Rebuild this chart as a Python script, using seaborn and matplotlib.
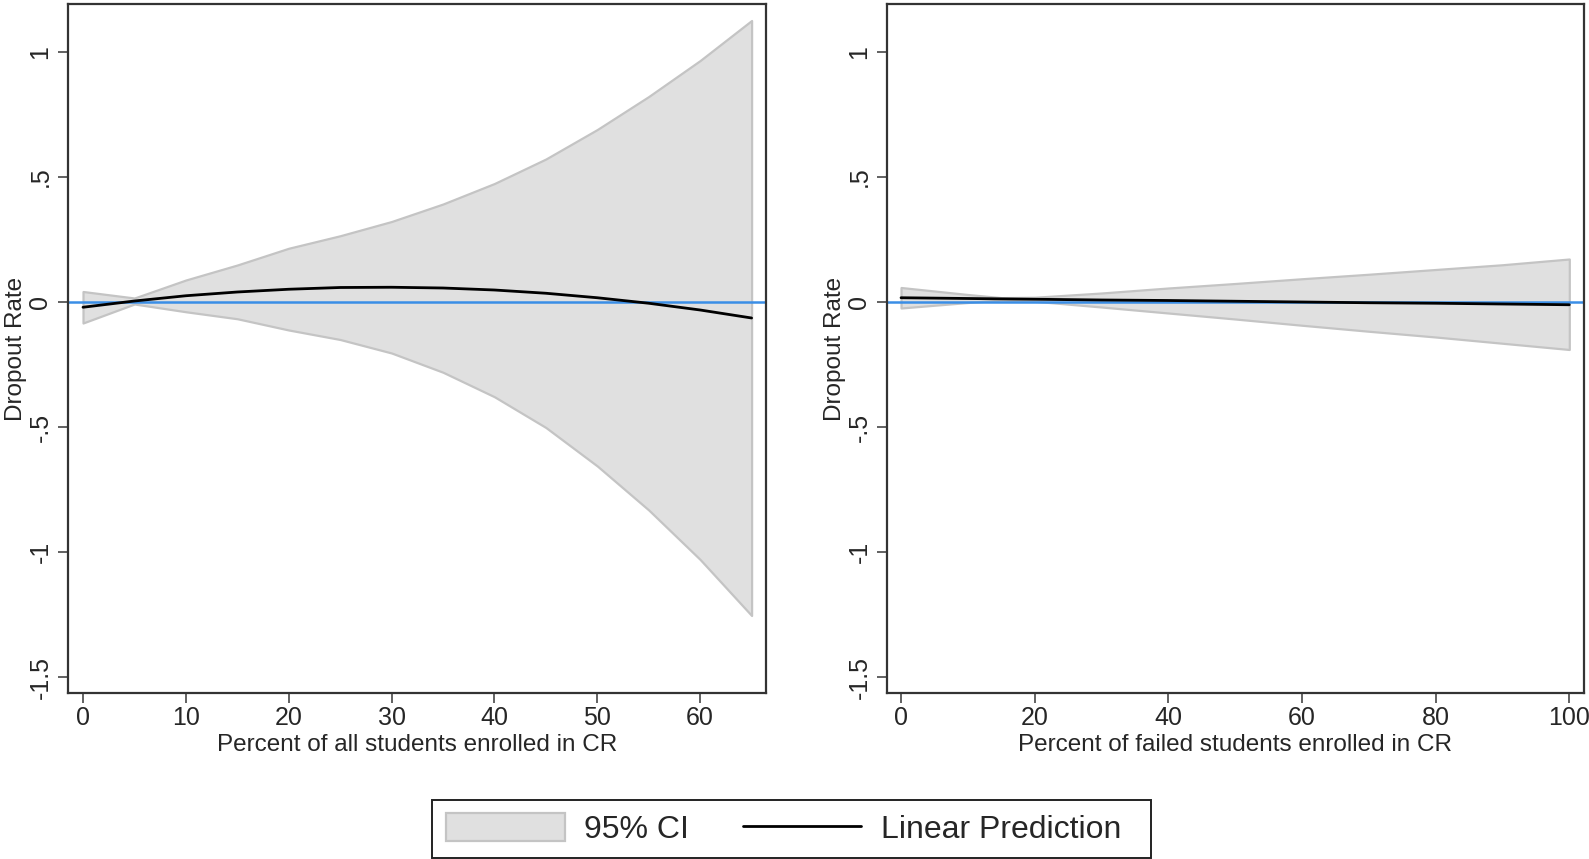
import matplotlib
matplotlib.use("Agg")
import matplotlib.pyplot as plt
import seaborn as sns
import pandas as pd
from matplotlib.patches import Patch, Rectangle
from matplotlib.lines import Line2D

# Margins of the dropout-rate model: share of all students in credit recovery
all_pct = [0, 5, 10, 15, 20, 25, 30, 35, 40, 45, 50, 55, 60, 65]
all_pred = [-0.021, 0.004, 0.025, 0.040, 0.051, 0.058, 0.059, 0.056, 0.048,
            0.035, 0.017, -0.005, -0.032, -0.064]
all_hi = [0.042, 0.016, 0.088, 0.148, 0.215, 0.265, 0.322, 0.392, 0.474,
          0.572, 0.690, 0.822, 0.966, 1.126]
all_lo = [-0.084, -0.008, -0.039, -0.067, -0.112, -0.150, -0.204, -0.281,
          -0.379, -0.502, -0.656, -0.832, -1.030, -1.254]

# Margins: share of failed students in credit recovery
fail_pct = [0, 10, 15, 20, 30, 40, 50, 60, 70, 80, 90, 100]
fail_pred = [0.017, 0.014, 0.0125, 0.011, 0.008, 0.006, 0.003, 0.000,
             -0.003, -0.005, -0.008, -0.011]
fail_hi = [0.058, 0.030, 0.0175, 0.019, 0.036, 0.056, 0.074, 0.093,
           0.111, 0.130, 0.149, 0.172]
fail_lo = [-0.024, -0.002, 0.0075, 0.003, -0.020, -0.044, -0.068, -0.093,
           -0.117, -0.140, -0.165, -0.190]

y_ticks = [1, 0.5, 0, -0.5, -1, -1.5]
y_tick_labels = ["1", ".5", "0", "-.5", "-1", "-1.5"]
x_ticks_all = [0, 10, 20, 30, 40, 50, 60]
x_ticks_fail = [0, 20, 40, 60, 80, 100]

sns.set_theme(style="white")
plt.rcParams["font.family"] = ["Liberation Sans", "DejaVu Sans"]

FILL = "#e0e0e0"
EDGE = "#c4c4c4"
ZERO = "#3a8ee6"
SPINE = "#333333"
W, H = 1589, 859

fig = plt.figure(figsize=(W / 100, H / 100), dpi=100)
fig.patch.set_facecolor("white")

ax1 = fig.add_axes([68 / W, 1 - 693 / H, (766 - 68) / W, (693 - 4) / H])
ax2 = fig.add_axes([887 / W, 1 - 693 / H, (1584 - 887) / W, (693 - 4) / H])


def draw(ax, x, pred, lo, hi, xticks, xlim, xlabel):
    df = pd.DataFrame({"x": x, "pred": pred, "lo": lo, "hi": hi})
    ax.fill_between(df["x"], df["lo"], df["hi"], facecolor=FILL,
                    edgecolor=EDGE, linewidth=1.6, zorder=1)
    ax.axhline(0, color=ZERO, linewidth=1.8, zorder=2)
    sns.lineplot(data=df, x="x", y="pred", ax=ax, color="black",
                 linewidth=2.0, zorder=3)
    ax.set_xlim(*xlim)
    ax.set_ylim(-1.564, 1.192)
    ax.set_yticks(y_ticks)
    ax.set_yticklabels(y_tick_labels, rotation=90, va="center", fontsize=18)
    ax.set_xticks(xticks)
    ax.set_xticklabels([str(t) for t in xticks], fontsize=18)
    ax.tick_params(axis="both", which="major", length=7.2, width=1.3,
                   color="#555555", direction="out", left=True, bottom=True,
                   pad=4)
    ax.tick_params(axis="x", pad=2)
    ax.set_xlabel(xlabel, fontsize=17.5, labelpad=3)
    ax.set_ylabel("Dropout Rate", fontsize=17.5)
    ax.yaxis.set_label_coords(-0.059, 0.5)
    for s in ax.spines.values():
        s.set_visible(True)
        s.set_color(SPINE)
        s.set_linewidth(1.6)


draw(ax1, all_pct, all_pred, all_lo, all_hi, x_ticks_all, (-1.46, 66.4),
     "Percent of all students enrolled in CR")
draw(ax2, fail_pct, fail_pred, fail_lo, fail_hi, x_ticks_fail, (-2.1, 102.2),
     "Percent of failed students enrolled in CR")

# Legend keys, with a frame drawn separately for wider right-hand padding
handles = [Patch(facecolor=FILL, edgecolor=EDGE, linewidth=1.6),
           Line2D([], [], color="black", linewidth=2.0)]
fig.legend(handles, ["95% CI", "Linear Prediction"], ncol=2,
           loc="center left", bbox_to_anchor=(446 / W, 1 - 829 / H),
           fontsize=23, frameon=False, borderpad=0, borderaxespad=0,
           handlelength=3.72, handleheight=0.94, handletextpad=0.6,
           columnspacing=1.68)
fig.add_artist(Rectangle((432 / W, 1 - 857.7 / H), (1150.5 - 432) / W,
                         57.7 / H, transform=fig.transFigure, fill=False,
                         edgecolor="#222222", linewidth=1.4))

fig.savefig("out.png", dpi=100, facecolor="white")
